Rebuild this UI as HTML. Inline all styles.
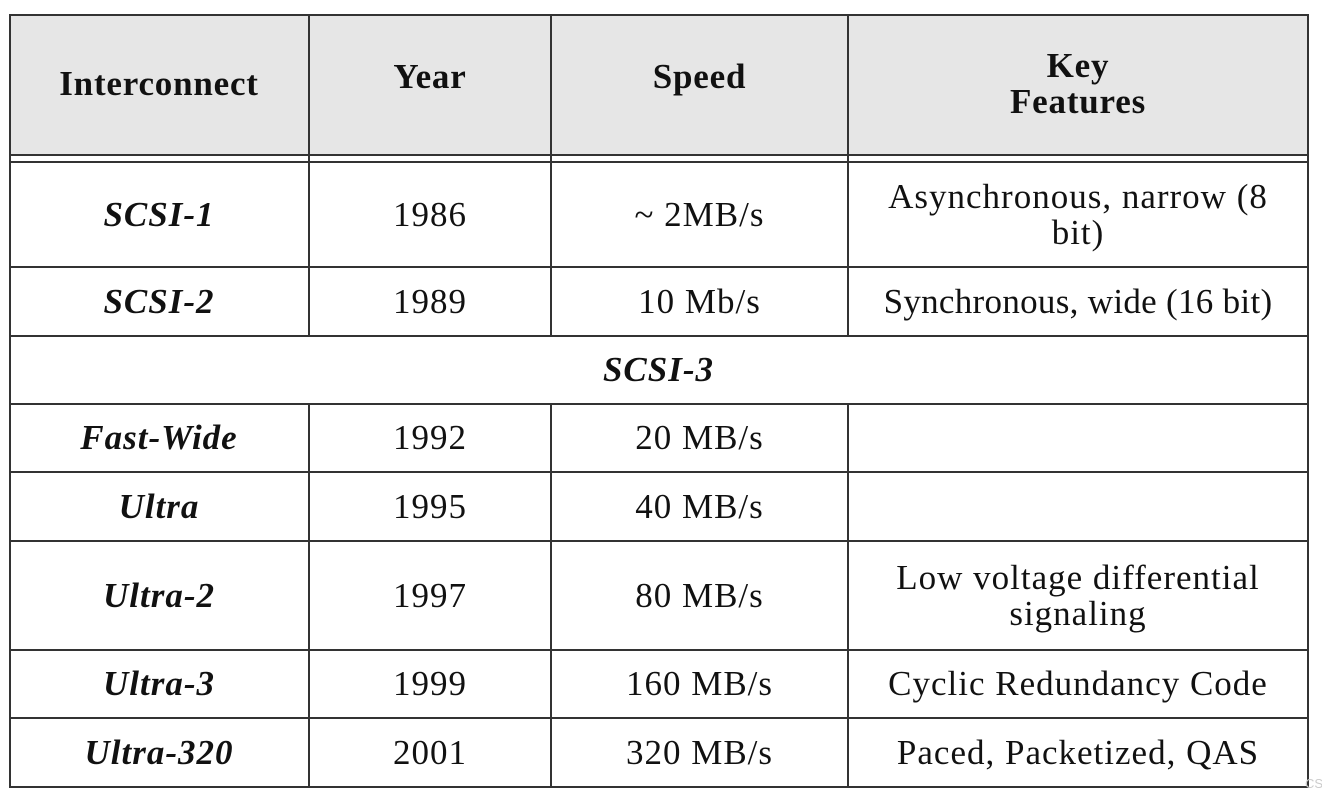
<!DOCTYPE html>
<html><head><meta charset="utf-8">
<style>
html,body{margin:0;padding:0;background:#fff;width:1322px;height:794px;overflow:hidden}
body{position:relative;font-family:"Liberation Serif",serif;color:#111}
.c{position:absolute;display:flex;align-items:center;justify-content:center;text-align:center;font-size:35px;letter-spacing:1px;line-height:36px;box-sizing:border-box;white-space:nowrap}
.h{font-weight:bold;font-size:35px;letter-spacing:0.8px}
.i{font-style:italic;font-weight:bold}
.hl{position:absolute;height:2px;background:#333;left:9px;width:1300px}
.vl{position:absolute;width:2px;background:#333}
#hdr{position:absolute;left:9px;top:14px;width:1300px;height:141px;background:#e6e6e6}
</style></head><body>
<div id="hdr"></div>
<div class="hl" style="top:14px"></div>
<div class="hl" style="top:154px"></div>
<div class="hl" style="top:161px"></div>
<div class="hl" style="top:266px"></div>
<div class="hl" style="top:335px"></div>
<div class="hl" style="top:403px"></div>
<div class="hl" style="top:471px"></div>
<div class="hl" style="top:540px"></div>
<div class="hl" style="top:649px"></div>
<div class="hl" style="top:717px"></div>
<div class="hl" style="top:786px"></div>
<div class="vl" style="left:9px;top:14px;height:774px"></div>
<div class="vl" style="left:1307px;top:14px;height:774px"></div>
<div class="vl" style="left:308px;top:14px;height:322px"></div>
<div class="vl" style="left:550px;top:14px;height:322px"></div>
<div class="vl" style="left:847px;top:14px;height:322px"></div>
<div class="vl" style="left:308px;top:404px;height:384px"></div>
<div class="vl" style="left:550px;top:404px;height:384px"></div>
<div class="vl" style="left:847px;top:404px;height:384px"></div>

<div class="c h" style="left:10px;top:14px;width:298px;height:140px">Interconnect</div>
<div class="c h" style="left:310px;top:14px;width:240px;height:125px">Year</div>
<div class="c h" style="left:552px;top:14px;width:295px;height:125px">Speed</div>
<div class="c h" style="left:849px;top:14px;width:458px;height:140px">Key<br>Features</div>

<div class="c i" style="left:10px;top:163px;width:298px;height:103px">SCSI-1</div>
<div class="c" style="left:310px;top:163px;width:240px;height:103px">1986</div>
<div class="c" style="left:552px;top:163px;width:295px;height:103px">~ 2MB/s</div>
<div class="c" style="left:849px;top:163px;width:458px;height:103px">Asynchronous, narrow (8<br>bit)</div>

<div class="c i" style="left:10px;top:268px;width:298px;height:67px">SCSI-2</div>
<div class="c" style="left:310px;top:268px;width:240px;height:67px">1989</div>
<div class="c" style="left:552px;top:268px;width:295px;height:67px">10 Mb/s</div>
<div class="c" style="left:849px;top:268px;width:458px;height:67px;letter-spacing:0.3px">Synchronous, wide (16 bit)</div>

<div class="c i" style="left:10px;top:337px;width:1297px;height:66px">SCSI-3</div>

<div class="c i" style="left:10px;top:405px;width:298px;height:66px">Fast-Wide</div>
<div class="c" style="left:310px;top:405px;width:240px;height:66px">1992</div>
<div class="c" style="left:552px;top:405px;width:295px;height:66px">20 MB/s</div>

<div class="c i" style="left:10px;top:473px;width:298px;height:67px">Ultra</div>
<div class="c" style="left:310px;top:473px;width:240px;height:67px">1995</div>
<div class="c" style="left:552px;top:473px;width:295px;height:67px">40 MB/s</div>

<div class="c i" style="left:10px;top:542px;width:298px;height:107px">Ultra-2</div>
<div class="c" style="left:310px;top:542px;width:240px;height:107px">1997</div>
<div class="c" style="left:552px;top:542px;width:295px;height:107px">80 MB/s</div>
<div class="c" style="left:849px;top:542px;width:458px;height:107px">Low voltage differential<br>signaling</div>

<div class="c i" style="left:10px;top:651px;width:298px;height:66px">Ultra-3</div>
<div class="c" style="left:310px;top:651px;width:240px;height:66px">1999</div>
<div class="c" style="left:552px;top:651px;width:295px;height:66px">160 MB/s</div>
<div class="c" style="left:849px;top:651px;width:458px;height:66px">Cyclic Redundancy Code</div>

<div class="c i" style="left:10px;top:719px;width:298px;height:67px">Ultra-320</div>
<div class="c" style="left:310px;top:719px;width:240px;height:67px">2001</div>
<div class="c" style="left:552px;top:719px;width:295px;height:67px">320 MB/s</div>
<div class="c" style="left:849px;top:719px;width:458px;height:67px">Paced, Packetized, QAS</div>

<div style="position:absolute;left:1305px;top:776px;font-family:'Liberation Sans',sans-serif;font-size:13px;color:#ccc">CSI</div>
</body></html>
